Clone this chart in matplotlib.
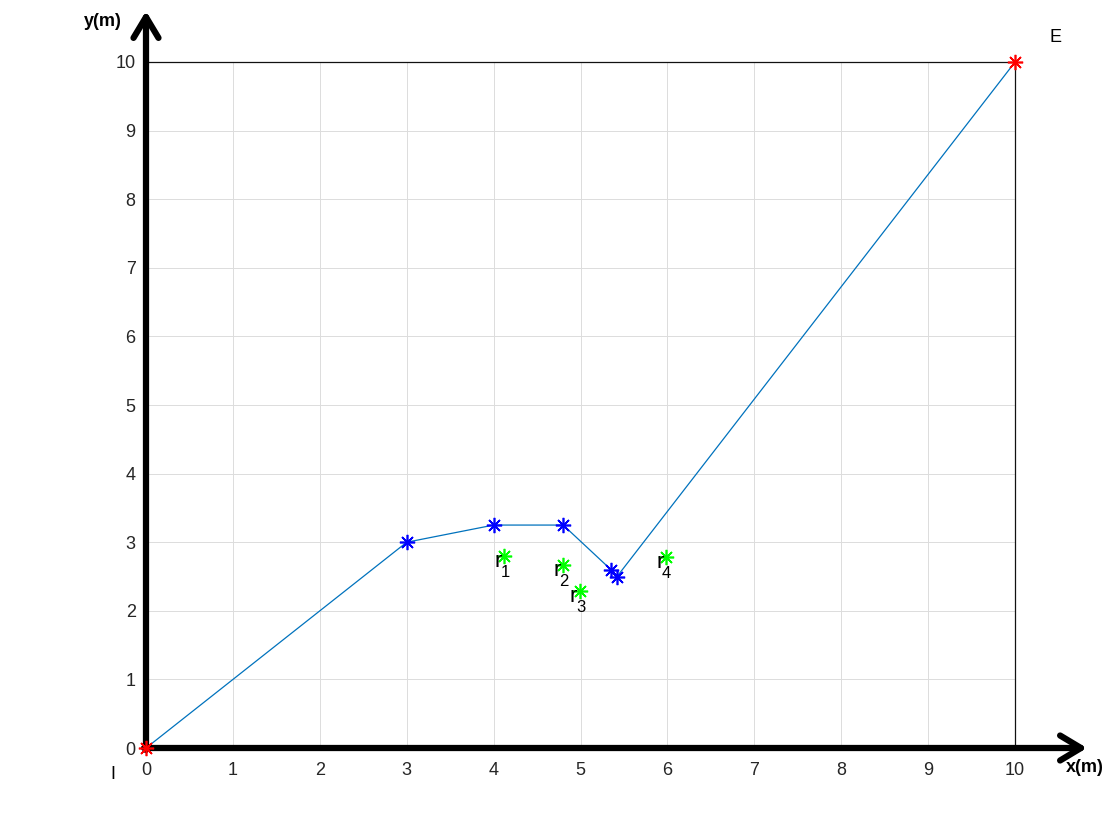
import matplotlib
matplotlib.use("Agg")
import matplotlib.pyplot as plt
from matplotlib.transforms import offset_copy

plt.rcParams['font.family'] = ['Liberation Sans', 'DejaVu Sans']

# Path (start -> waypoints -> end)
path_x = [0, 3, 4, 4.8, 5.35, 5.42, 10]
path_y = [0, 3, 3.25, 3.25, 2.6, 2.5, 10]
# Waypoints (blue)
wp_x = [3, 4, 4.8, 5.35, 5.42]
wp_y = [3, 3.25, 3.25, 2.6, 2.5]
# Start / end (red)
se_x = [0, 10]
se_y = [0, 10]
# Receivers (green)
r_x = [4.12, 4.8, 4.99, 5.98]
r_y = [2.80, 2.67, 2.29, 2.78]
r_subs = ['1', '2', '3', '4']
ticks = list(range(0, 11))

fig = plt.figure(figsize=(11.2, 8.4), dpi=100)
ax = fig.add_axes([0.1304, 0.1095, 0.7759, 0.8167])
ax.set_xlim(0, 10)
ax.set_ylim(0, 10)
ax.set_xticks(ticks)
ax.set_yticks(ticks)
ax.grid(True, color='#dcdcdc', lw=0.7)
ax.set_axisbelow(True)
ax.tick_params(length=0, labelsize=13, colors='#262626')
ax.tick_params(axis='x', pad=10)
ax.tick_params(axis='y', pad=7.5)
for s in ['top', 'right']:
    ax.spines[s].set_linewidth(0.9)
    ax.spines[s].set_color('#111111')
for s in ['left', 'bottom']:
    ax.spines[s].set_visible(False)

ast = (8, 2, 0)
ax.plot(path_x, path_y, color='#0072BD', lw=0.9, zorder=3)
ax.plot(wp_x, wp_y, ls='none', marker=ast, ms=11, mec='blue', mew=1.2, zorder=4)
ax.plot(se_x, se_y, ls='none', marker=ast, ms=11, mec='red', mew=1.2, zorder=4, clip_on=False)
ax.plot(r_x, r_y, ls='none', marker=ast, ms=11, mec='#00ff00', mew=1.2, zorder=4)
for x, y, sub in zip(r_x, r_y, r_subs):
    t1 = offset_copy(ax.transData, fig=fig, x=-6, y=-11, units='dots')
    ax.text(x, y, 'r', fontsize=16, ha='center', va='baseline', transform=t1, zorder=6)
    t2 = offset_copy(ax.transData, fig=fig, x=1, y=-21, units='dots')
    ax.text(x, y, sub, fontsize=12, ha='center', va='baseline', transform=t2, zorder=6)

ax.text(10.46, 10.35, 'E', fontsize=13, ha='center', va='center', clip_on=False)
ax.text(-0.38, -0.39, 'I', fontsize=13, ha='center', va='center', clip_on=False)

# Axis arrows
style = '->,head_length=1.5,head_width=0.9'
ax.annotate('', xy=(1087/1120, 1-748/840), xycoords='figure fraction',
            xytext=(144/1120, 1-748/840), textcoords='figure fraction',
            arrowprops=dict(arrowstyle=style, lw=4.5, color='black', shrinkA=0, shrinkB=0))
ax.annotate('', xy=(146/1120, 1-11/840), xycoords='figure fraction',
            xytext=(146/1120, 1-750/840), textcoords='figure fraction',
            arrowprops=dict(arrowstyle=style, lw=4.5, color='black', shrinkA=0, shrinkB=0))

fig.text(103/1120, 1-22/840, 'y(m)', fontsize=13, fontweight='bold', ha='center', va='center')
fig.text(1085/1120, 1-768/840, 'x(m)', fontsize=13, fontweight='bold', ha='center', va='center')

fig.savefig('out.png', dpi=100, facecolor='white')
